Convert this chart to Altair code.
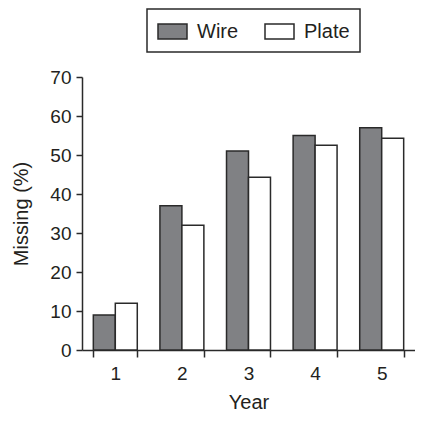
import altair as alt
import pandas as pd

years = ["1", "2", "3", "4", "5"]
groups = ["Wire", "Plate"]
wire = [9, 37, 51, 55, 57]
plate = [12, 32, 44.3, 52.5, 54.3]
y_ticks = [0, 10, 20, 30, 40, 50, 60, 70]

df = pd.DataFrame({
    "Year": years * 2,
    "Group": ["Wire"] * len(years) + ["Plate"] * len(years),
    "Missing": wire + plate,
})

FONT = "Liberation Sans"
INK = "#2a2a2a"
TXT = "#231f20"

chart = alt.Chart(df).mark_bar(stroke=INK, strokeWidth=1.5).encode(
    x=alt.X("Year:N", sort=years,
            scale=alt.Scale(paddingInner=0.34, paddingOuter=0.17),
            axis=alt.Axis(title="Year", labelAngle=0, tickBand="extent",
                          tickSize=7, tickWidth=1.5, domainWidth=1.5,
                          domainColor=INK, tickColor=INK,
                          labelFont=FONT, labelFontSize=19, labelColor=TXT,
                          labelPadding=7, titleFont=FONT, titleFontSize=20,
                          titleFontWeight="normal", titleColor=TXT,
                          titlePadding=9)),
    xOffset=alt.XOffset("Group:N", sort=groups,
                        scale=alt.Scale(paddingInner=0, paddingOuter=0)),
    y=alt.Y("Missing:Q", scale=alt.Scale(domain=[0, 70]),
            axis=alt.Axis(title="Missing (%)", values=y_ticks, grid=False,
                          tickSize=6, tickWidth=1.5, domainWidth=1.5,
                          domainColor=INK, tickColor=INK,
                          labelFont=FONT, labelFontSize=19, labelColor=TXT,
                          labelPadding=5, titleFont=FONT, titleFontSize=20,
                          titleFontWeight="normal", titleColor=TXT,
                          titlePadding=18)),
    fill=alt.Fill("Group:N", sort=groups,
                  scale=alt.Scale(domain=groups, range=["#808184", "#ffffff"]),
                  legend=alt.Legend(title=None, orient="none", direction="horizontal",
                                    legendX=65, legendY=-68,
                                    symbolType="M-1,-0.652H1.522V0.652H-1Z",
                                    symbolSize=529,
                                    symbolStrokeColor=INK, symbolStrokeWidth=1.5,
                                    labelFont=FONT, labelFontSize=20, labelColor=TXT,
                                    labelOffset=15, columnPadding=23,
                                    strokeColor=INK, padding=10)),
).properties(
    width=333, height=273, autosize="none",
    padding={"left": 74, "top": 69, "right": 0, "bottom": 65},
).configure_view(stroke=None).configure_legend(strokeWidth=1.5)

chart.save("out.html", embed_options={"renderer": "svg", "actions": False})
